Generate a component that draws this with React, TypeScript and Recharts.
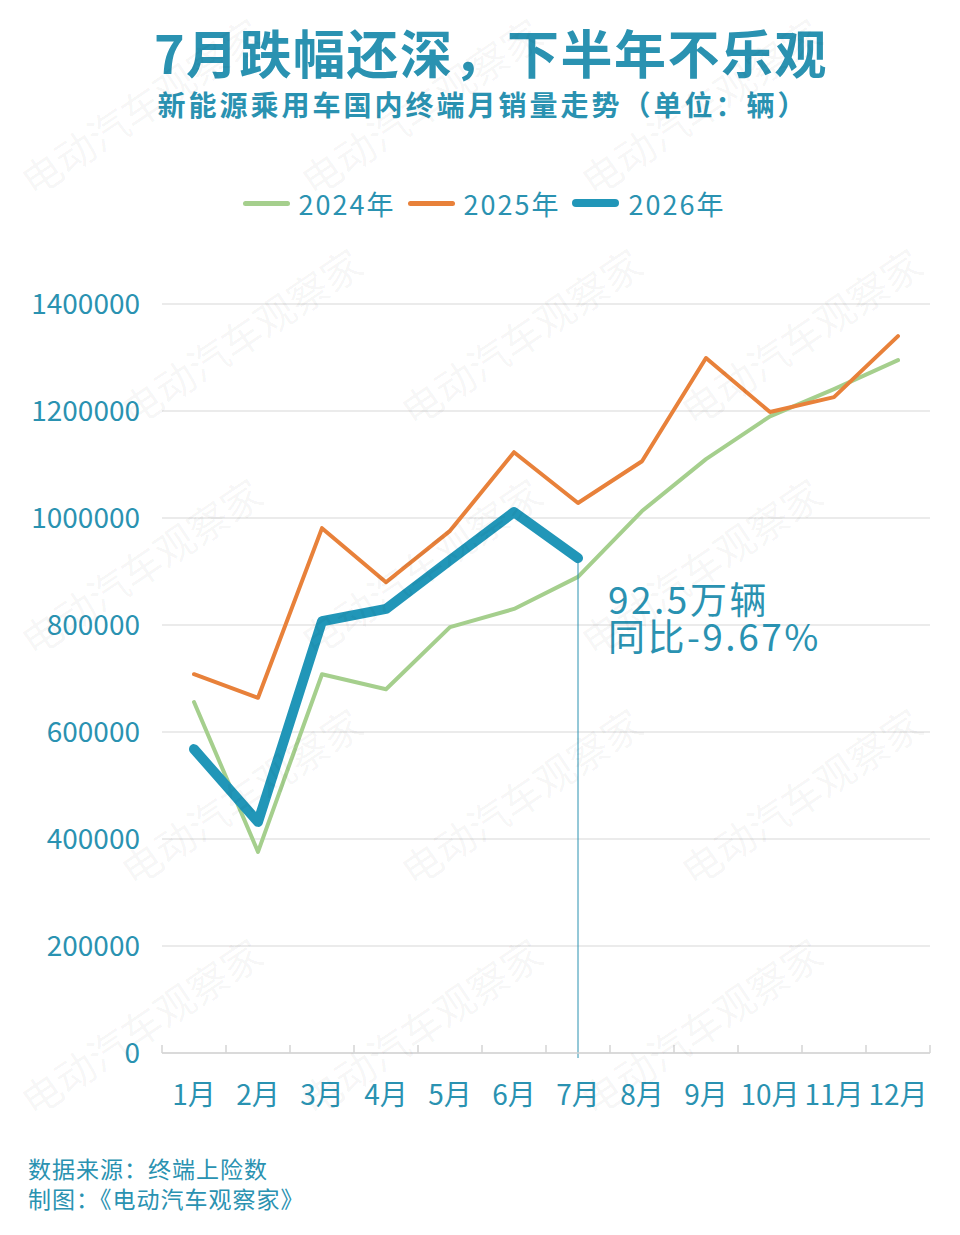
import React from 'react';
import {
  LineChart,
  Line,
  XAxis,
  YAxis,
  CartesianGrid,
  Legend,
  ReferenceLine,
} from 'recharts';

// 月份 & 销量 (辆)
const MONTHS = ['1月', '2月', '3月', '4月', '5月', '6月', '7月', '8月', '9月', '10月', '11月', '12月'];
const SALES_2024 = [656000, 376000, 708000, 680000, 796000, 830000, 890000, 1013000, 1110000, 1190000, 1241000, 1295000];
const SALES_2025 = [708000, 664000, 981000, 880000, 976000, 1123000, 1028000, 1106000, 1299000, 1198000, 1226000, 1340000];
const SALES_2026 = [568000, 432000, 807000, 830000, 921000, 1011000, 925000];
const Y_TICKS = [0, 200000, 400000, 600000, 800000, 1000000, 1200000, 1400000];
const NOTE_LINES = ['92.5万辆', '同比-9.67%'];
const WATERMARK = '电动汽车观察家';

const TEAL = '#2a92b1';
const FONT = "'Noto Sans CJK SC', 'Noto Sans', sans-serif";

const SERIES = [
  { key: 'y2024', name: '2024年', color: '#a5cf8d', width: 4 },
  { key: 'y2025', name: '2025年', color: '#e8813a', width: 4 },
  { key: 'y2026', name: '2026年', color: '#2196b8', width: 10 },
];

const data = MONTHS.map((label, i) => ({
  idx: i + 1,
  label,
  y2024: SALES_2024[i],
  y2025: SALES_2025[i],
  y2026: SALES_2026[i] ?? null,
}));

// month centres get labels, band edges get the little upward tick marks
const X_TICKS = [...MONTHS.flatMap((_, i) => [i + 0.5, i + 1]), MONTHS.length + 0.5];
const NOTE_INDEX = SALES_2026.length;

const MonthTick = ({ x, y, payload }: { x: number; y: number; payload: { value: number } }) => {
  const v = payload.value;
  if (!Number.isInteger(v)) {
    return <line x1={x} x2={x} y1={y - 8} y2={y} stroke="#d4d4d4" strokeWidth={1.5} />;
  }
  return (
    <text x={x} y={y + 52} textAnchor="middle" fill={TEAL} fontSize={28} fontFamily={FONT}>
      {MONTHS[v - 1]}
    </text>
  );
};

const NoteLine = (props: { x1?: number; y1?: number; x2?: number; y2?: number }) => {
  const { x1 = 0, y1 = 0, x2 = 0, y2 = 0 } = props;
  const top = Math.min(y1, y2);
  const bottom = Math.max(y1, y2);
  return (
    <g>
      <line x1={x1} x2={x2} y1={top} y2={bottom + 5} stroke={TEAL} strokeWidth={1} />
      {NOTE_LINES.map((t, i) => (
        <text
          key={t}
          x={x1 + 30}
          y={top + 56 + i * 37}
          fill={TEAL}
          fontSize={37}
          letterSpacing={2.5}
          fontFamily={FONT}
        >
          {t}
        </text>
      ))}
    </g>
  );
};

const renderLegend = ({ payload }: { payload?: Array<{ value: string; color: string }> }) => (
  <div style={{ display: 'flex', justifyContent: 'center', alignItems: 'center', height: 40, fontFamily: FONT }}>
    {(payload || []).map((item) => {
      const s = SERIES.find((d) => d.name === item.value);
      return (
        <div key={item.value} style={{ display: 'flex', alignItems: 'center', marginRight: 12 }}>
          <span
            style={{
              display: 'inline-block',
              width: 47,
              height: s && s.width > 5 ? 8 : 5,
              borderRadius: 4,
              background: item.color,
              marginRight: 9,
            }}
          />
          <span style={{ color: TEAL, fontSize: 27, letterSpacing: 2 }}>{item.value}</span>
        </div>
      );
    })}
  </div>
);

// decorative tiled watermark
const WM_ROWS = [120, 350, 580, 810, 1040];
const WM_COLS = [150, 430, 710];

export default function App() {
  return (
    <div
      style={{
        position: 'absolute',
        left: 0,
        top: 0,
        width: 960,
        height: 1235,
        background: '#ffffff',
        overflow: 'hidden',
        fontFamily: FONT,
      }}
    >
      <div
        style={{
          position: 'absolute',
          top: 26,
          left: 0,
          width: 982,
          textAlign: 'center',
          fontSize: 52,
          lineHeight: '52px',
          fontWeight: 700,
          letterSpacing: 1.5,
          color: TEAL,
        }}
      >
        7月跌幅还深，下半年不乐观
      </div>
      <div
        style={{
          position: 'absolute',
          top: 90,
          left: 0,
          width: 966,
          textAlign: 'center',
          fontSize: 28,
          lineHeight: '28px',
          fontWeight: 700,
          letterSpacing: 3,
          color: TEAL,
        }}
      >
        新能源乘用车国内终端月销量走势（单位：辆）
      </div>

      <div style={{ position: 'absolute', top: 150, left: 0 }}>
        <LineChart width={960} height={1000} data={data} margin={{ top: 114, right: 30, left: 22, bottom: 37 }}>
          <CartesianGrid vertical={false} stroke="#e4e4e4" strokeWidth={1.5} />
          <XAxis
            dataKey="idx"
            type="number"
            domain={[0.5, MONTHS.length + 0.5]}
            ticks={X_TICKS}
            interval={0}
            height={60}
            tickSize={0}
            tickMargin={0}
            tickLine={false}
            axisLine={{ stroke: '#d4d4d4', strokeWidth: 1.5 }}
            tick={MonthTick}
          />
          <YAxis
            domain={[0, 1400000]}
            ticks={Y_TICKS}
            width={140}
            axisLine={false}
            tickLine={false}
            tickSize={0}
            tickMargin={22}
            tick={{ fill: TEAL, fontSize: 28, fontFamily: FONT }}
          />
          <Legend verticalAlign="top" content={renderLegend} wrapperStyle={{ top: 33, left: 10, width: 960 }} />
          {SERIES.map((s) => (
            <Line
              key={s.key}
              type="linear"
              dataKey={s.key}
              name={s.name}
              stroke={s.color}
              strokeWidth={s.width}
              strokeLinecap="round"
              strokeLinejoin="round"
              dot={false}
              activeDot={false}
              connectNulls={false}
              isAnimationActive={false}
            />
          ))}
          <ReferenceLine
            segment={[
              { x: NOTE_INDEX, y: SALES_2026[NOTE_INDEX - 1] },
              { x: NOTE_INDEX, y: 0 },
            ]}
            shape={NoteLine}
            ifOverflow="visible"
          />
        </LineChart>
      </div>

      <div
        style={{
          position: 'absolute',
          top: 1153,
          left: 28,
          fontSize: 23,
          lineHeight: '30px',
          letterSpacing: 1,
          color: TEAL,
        }}
      >
        <div>数据来源：终端上险数</div>
        <div>制图：《电动汽车观察家》</div>
      </div>

      <svg
        width={960}
        height={1235}
        style={{ position: 'absolute', left: 0, top: 0, pointerEvents: 'none' }}
      >
        {WM_ROWS.map((y, r) =>
          WM_COLS.map((x, c) => {
            const cx = x + (r % 2) * 100;
            return (
              <text
                key={`${r}-${c}`}
                x={cx}
                y={y}
                textAnchor="middle"
                fontSize={40}
                fontFamily={FONT}
                fill="rgba(0,0,0,0.045)"
                transform={`rotate(-34 ${cx} ${y})`}
              >
                {WATERMARK}
              </text>
            );
          })
        )}
      </svg>
    </div>
  );
}
